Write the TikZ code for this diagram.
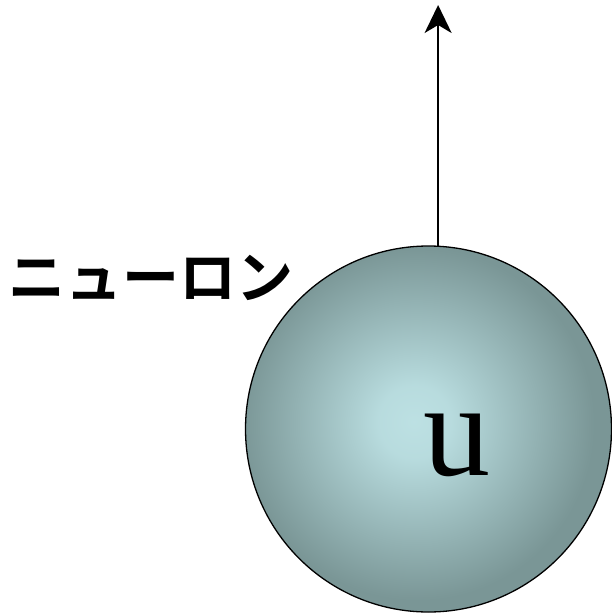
\documentclass[tikz,border=0pt]{standalone}
\usepackage{fontspec}
\setmainfont{Liberation Serif}
\newfontfamily\cjk{Noto Sans CJK JP}[BoldFont={Noto Sans CJK JP Bold}]
\usetikzlibrary{arrows.meta}
\pgfdeclareradialshading{neuronshade}{\pgfpoint{-2bp}{1bp}}{%
  rgb(0bp)=(0.74,0.88,0.89);
  rgb(5bp)=(0.72,0.86,0.87);
  rgb(24bp)=(0.48,0.59,0.59);
  rgb(100bp)=(0.48,0.59,0.59)}
\begin{document}
\begin{tikzpicture}[x=1pt,y=-1pt]
\path[use as bounding box] (0,0) rectangle (612,616);
\node[circle,draw,line width=1.3pt,minimum size=366pt,inner sep=0pt,shading=neuronshade] (neuron) at (428.5,429) {};
\node[font=\fontsize{134}{140}\selectfont,inner sep=0pt,anchor=base] (u) at (457,475) {u};
\coordinate (tip) at (437.5,5);
\draw[line width=2pt,-{Stealth[length=28pt,width=27pt,inset=8pt]}] (neuron.87) -- (neuron.87 |- tip);
\node[anchor=base west,inner sep=0pt,font=\cjk\bfseries\fontsize{57}{60}\selectfont] (label) at (8,298) {ニューロン};
\end{tikzpicture}
\end{document}
